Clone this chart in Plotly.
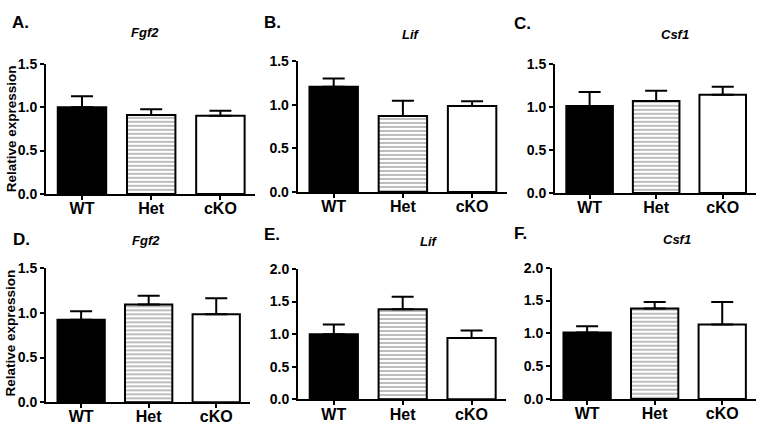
import plotly.graph_objects as go

W, H = 762, 434

categories = ["WT", "Het", "cKO"]

panel_letters = ["A.", "B.", "C.", "D.", "E.", "F."]
gene_names = ["Fgf2", "Lif", "Csf1", "Fgf2", "Lif", "Csf1"]

vals_A = [1.00, 0.91, 0.90]
err_A = [0.125, 0.065, 0.058]
vals_B = [1.205, 0.87, 0.985]
err_B = [0.095, 0.175, 0.055]
vals_C = [1.01, 1.067, 1.142]
err_C = [0.162, 0.12, 0.093]
vals_D = [0.923, 1.096, 0.985]
err_D = [0.097, 0.097, 0.18]
vals_E = [1.00, 1.384, 0.94]
err_E = [0.147, 0.19, 0.118]
vals_F = [1.012, 1.378, 1.134]
err_F = [0.098, 0.10, 0.343]

y_max = [1.5, 1.5, 1.5, 1.5, 2.0, 2.0]
y_ticks_A = [0.0, 0.5, 1.0, 1.5]
y_ticks_E = [0.0, 0.5, 1.0, 1.5, 2.0]
y_label = "Relative expression"

values = [vals_A, vals_B, vals_C, vals_D, vals_E, vals_F]
errors = [err_A, err_B, err_C, err_D, err_E, err_F]

# panel boxes in pixels: (left, right, top, bottom)
boxes = [
    (46, 255, 58, 193),
    (297.7, 506.7, 55, 191),
    (555, 756, 58, 192),
    (46, 250, 270.3, 409.3),
    (298, 506, 271, 406.3),
    (552, 756, 269.7, 406),
]
letter_pos = [(10, 15), (262, 15), (512, 16), (11, 240), (262, 235), (512, 234)]
gene_pos = [(145, 25), (411, 27), (675, 27), (146, 241), (429, 242), (677, 240)]
ylabel_pos = [(11, 126), (11, 338)]

FONT = "Liberation Sans, Arial, sans-serif"

fig = go.Figure()
layout = {}
annotations = []

for i in range(6):
    sfx = "" if i == 0 else str(i + 1)
    l, r, t, b = boxes[i]
    xa = "x" + sfx
    ya = "y" + sfx
    for j, cat in enumerate(categories):
        if j == 0:
            marker = dict(color="black", line=dict(color="black", width=2))
        elif j == 1:
            marker = dict(color="white", line=dict(color="black", width=2),
                          pattern=dict(shape="-", size=4, solidity=0.35,
                                       fgcolor="#404040", fillmode="overlay"))
        else:
            marker = dict(color="white", line=dict(color="black", width=2))
        fig.add_trace(go.Bar(
            x=[cat], y=[values[i][j]], width=0.7,
            marker=marker,
            error_y=dict(type="data", symmetric=False, array=[errors[i][j]],
                         arrayminus=[0], color="black", thickness=2, width=11),
            xaxis=xa, yaxis=ya, showlegend=False,
        ))
    layout["xaxis" + sfx] = dict(
        domain=[l / W, r / W], anchor=ya, type="category",
        categoryorder="array", categoryarray=categories,
        range=[-0.52, 2.5], showline=True, linecolor="black", linewidth=2,
        ticks="outside", ticklen=4, tickwidth=1.5, tickcolor="black",
        ticklabelstandoff=-5,
        showgrid=False, zeroline=False,
        tickfont=dict(family=FONT, size=16, color="black", weight="bold"),
    )
    tv = y_ticks_A if y_max[i] == 1.5 else y_ticks_E
    layout["yaxis" + sfx] = dict(
        domain=[1 - b / H, 1 - t / H], anchor=xa,
        range=[0, y_max[i]], tickvals=tv, ticktext=["%.1f" % v for v in tv],
        showline=True, linecolor="black", linewidth=2,
        ticks="outside", ticklen=4, tickwidth=1.5, tickcolor="black",
        showgrid=False, zeroline=False,
        tickfont=dict(family=FONT, size=14, color="black", weight="bold"),
    )
    lx, ly = letter_pos[i]
    annotations.append(dict(
        text=panel_letters[i], x=lx / W, y=1 - ly / H, xref="paper", yref="paper",
        xanchor="left", yanchor="middle", showarrow=False,
        font=dict(family=FONT, size=17, color="black", weight="bold"),
    ))
    gx, gy = gene_pos[i]
    annotations.append(dict(
        text=gene_names[i], x=gx / W, y=1 - gy / H, xref="paper", yref="paper",
        xanchor="center", yanchor="middle", showarrow=False,
        font=dict(family=FONT, size=13, color="black", weight="bold", style="italic"),
    ))

for (px, py) in ylabel_pos:
    annotations.append(dict(
        text=y_label, x=px / W, y=1 - py / H, xref="paper", yref="paper",
        xanchor="center", yanchor="middle", showarrow=False, textangle=-90,
        font=dict(family=FONT, size=13.5, color="black", weight="bold"),
    ))

fig.update_layout(
    width=W, height=H,
    margin=dict(l=0, r=0, t=0, b=0),
    paper_bgcolor="white", plot_bgcolor="white",
    bargap=0.3, annotations=annotations,
    **layout,
)

fig.write_html(
    "out.html",
    config={"displayModeBar": False},
    post_script="document.body.style.margin='0';document.body.style.padding='0';document.body.style.overflow='hidden';",
)
